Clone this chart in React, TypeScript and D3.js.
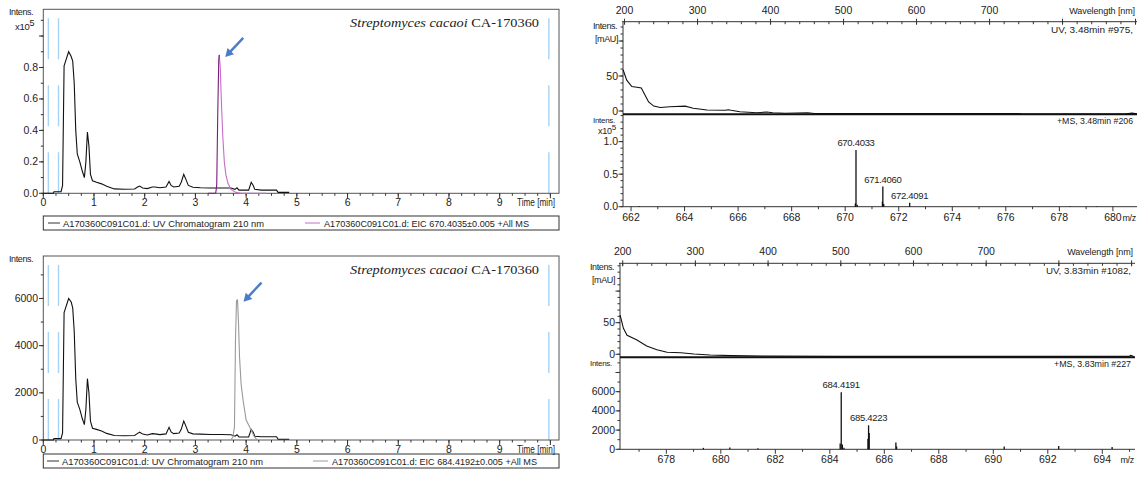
import * as d3 from 'd3'

const FONT = "'Liberation Sans', Arial, sans-serif"
const SERIF = "'Liberation Serif', 'Times New Roman', serif"

// ---- chromatograms: [time min, intensity] ----
// top: UV 210 nm and EIC 670.4035 (x10^5)
const tlUv: [number, number][] = [
  [0, 0], [0.2, 0], [0.21, 0.01], [0.35, 0.01], [0.38, 0.05], [0.41, 0.81], [0.44, 0.84], [0.5, 0.9],
  [0.55, 0.87], [0.58, 0.84], [0.61, 0.7], [0.64, 0.4], [0.67, 0.25], [0.72, 0.2], [0.77, 0.14],
  [0.81, 0.1], [0.84, 0.2], [0.87, 0.39], [0.9, 0.3], [0.93, 0.12], [0.97, 0.08], [1.05, 0.07],
  [1.15, 0.06], [1.25, 0.045], [1.4, 0.028], [1.6, 0.026], [1.8, 0.027], [1.86, 0.04], [1.9, 0.046],
  [1.96, 0.034], [2.05, 0.03], [2.15, 0.04], [2.2, 0.04], [2.3, 0.035], [2.42, 0.04], [2.48, 0.075],
  [2.52, 0.05], [2.57, 0.04], [2.68, 0.045], [2.72, 0.07], [2.77, 0.12], [2.81, 0.09], [2.86, 0.05],
  [2.95, 0.038], [3.1, 0.035], [3.3, 0.034], [3.5, 0.034], [3.7, 0.034], [3.78, 0.025], [3.82, 0.035],
  [3.86, 0.02], [3.95, 0.02], [4.05, 0.02], [4.1, 0.07], [4.14, 0.05], [4.17, 0.025], [4.3, 0.02],
  [4.6, 0.02], [4.63, 0.006], [4.85, 0.006],
]
const tlEic: [number, number][] = [
  [3.25, 0], [3.4, 0], [3.42, 0.05], [3.44, 0.5], [3.46, 0.85], [3.47, 0.88], [3.49, 0.8], [3.51, 0.6],
  [3.54, 0.36], [3.57, 0.2], [3.6, 0.12], [3.64, 0.065], [3.7, 0.025], [3.8, 0.006], [3.9, 0], [4.4, 0],
]
// bottom: UV 210 nm and EIC 684.4192
const blUv: [number, number][] = [
  [0, 0], [0.2, 0], [0.21, 60], [0.35, 60], [0.38, 300], [0.41, 5400], [0.44, 5600], [0.5, 6000],
  [0.55, 5850], [0.58, 5600], [0.61, 4600], [0.64, 2600], [0.67, 1600], [0.72, 1300], [0.77, 900],
  [0.81, 650], [0.84, 1300], [0.87, 2600], [0.9, 2000], [0.93, 800], [0.97, 500], [1.05, 450],
  [1.15, 380], [1.25, 280], [1.4, 190], [1.6, 180], [1.8, 190], [1.86, 280], [1.9, 330], [1.96, 250],
  [2.05, 210], [2.15, 270], [2.2, 260], [2.3, 230], [2.42, 260], [2.48, 540], [2.52, 340], [2.57, 270],
  [2.68, 300], [2.72, 450], [2.77, 800], [2.81, 600], [2.86, 330], [2.95, 260], [3.1, 250], [3.3, 235],
  [3.5, 235], [3.7, 225], [3.78, 160], [3.82, 220], [3.86, 130], [3.95, 130], [4.05, 130], [4.1, 450],
  [4.14, 330], [4.17, 160], [4.3, 140], [4.6, 140], [4.63, 30], [4.85, 30],
]
const blEic: [number, number][] = [
  [3.7, 0], [3.74, 140], [3.77, 560], [3.79, 4230], [3.81, 5900], [3.83, 5950], [3.85, 4930], [3.87, 3520],
  [3.9, 2390], [3.94, 1690], [4.0, 845], [4.1, 420], [4.16, 140], [4.22, 0],
]

// ---- UV spectra: [wavelength nm, mAU] ----
const trSpec: [number, number][] = [
  [198, 59], [203, 44], [210, 35], [217, 34], [223, 33], [228, 23], [233, 13], [240, 7], [249, 5],
  [262, 6], [283, 7], [294, 4], [313, 1.5], [338, 1], [342, 1.8], [346, 1], [358, -1], [381, -2.5],
  [395, -1.5], [403, -2.5], [420, -3.3], [451, -2.4], [460, -3.5], [600, -3.5], [740, -3.5],
  [745, -4.4], [885, -4.4], [895, -3], [902, -4],
]
const brSpec: [number, number][] = [
  [196.5, 62], [201, 41], [206, 30], [219, 23], [233, 13], [247, 7], [261, 3.1], [280, 2.5],
  [298, 0.5], [320, -1.2], [350, -2.2], [400, -3], [500, -3.4], [700, -3.4], [896, -3.4],
  [899, -1.8], [903, -3.4],
]

// ---- MS spectra ----
const trMz = [662.3, 670.38, 670.4033, 670.45, 671.39, 671.406, 671.44, 672.4091, 678.4, 679.4]
const trInt = [0.01, 0.05, 0.87, 0.03, 0.08, 0.31, 0.04, 0.06, 0.008, 0.006]
const trLab = ['', '', '670.4033', '', '', '671.4060', '', '672.4091', '', '']
const brMz = [679.36, 680.33, 681.36, 684.38, 684.4191, 684.46, 684.52, 685.4, 685.4223, 685.445, 686.425, 686.45, 690.4, 692.4, 694.36]
const brInt = [150, 200, 100, 600, 5950, 500, 150, 1100, 2500, 1700, 700, 300, 300, 350, 250]
const brLab = ['', '', '', '', '684.4191', '', '', '', '685.4223', '', '', '', '', '', '']

const xTime = d3.scaleLinear().domain([0, 10.17]).range([43.3, 559])
const dashTimes = [0.1, 0.3, 9.97]

type P = [number, number]

function Chromatogram(props: any) {
  const { top, axisY, yMax, major, minor, labels, fmt, uv, eic, riseColor, fallColor, legendTop,
    eicText, mult, legendX } = props
  const y = d3.scaleLinear().domain([0, yMax]).range([axisY, top])
  const line = d3.line<P>().x(d => xTime(d[0])).y(d => y(d[1]))
  const pk = eic.reduce((a: P, b: P) => (b[1] > a[1] ? b : a))
  const pi = eic.indexOf(pk)
  const tipX = xTime(pk[0]) + 6, tipY = y(pk[1]) + 2
  const tailX = tipX + 18, tailY = tipY - 19
  const ang = Math.atan2(tipY - tailY, tipX - tailX)
  const hl = 8, hw = 4.5
  const head = [
    [tipX, tipY],
    [tipX - hl * Math.cos(ang) + hw * Math.sin(ang), tipY - hl * Math.sin(ang) - hw * Math.cos(ang)],
    [tipX - hl * Math.cos(ang) - hw * Math.sin(ang), tipY - hl * Math.sin(ang) + hw * Math.cos(ang)],
  ]
  const minorX = d3.range(0, 10.01, 0.25)
  const majorX = d3.range(0, 11, 1)
  const minorY = d3.range(0, yMax, minor)
  const majorY = d3.range(0, yMax, major)
  return (
    <g fontFamily={FONT}>
      {dashTimes.map(t => (
        <line key={t} x1={xTime(t)} x2={xTime(t)} y1={axisY} y2={axisY - 175} stroke="#a6d3f5" strokeWidth={1.4} strokeDasharray="41 26" />
      ))}
      <rect x={43.3} y={top} width={559 - 43.3} height={axisY - top} fill="none" stroke="#555" strokeWidth={1} />
      {minorX.map(t => <line key={'mx' + t} x1={xTime(t)} x2={xTime(t)} y1={axisY} y2={axisY + 2.5} stroke="#333" />)}
      {majorX.map(t => <line key={'Mx' + t} x1={xTime(t)} x2={xTime(t)} y1={axisY} y2={axisY + 5} stroke="#333" />)}
      {majorX.slice(0, 10).map(t => (
        <text key={'lx' + t} x={xTime(t)} y={axisY + 13} fontSize={10.5} textAnchor="middle" fill="#222">{t}</text>
      ))}
      <text x={555} y={axisY + 13} fontSize={10} textAnchor="end" fill="#222" textLength={38} lengthAdjust="spacingAndGlyphs">Time [min]</text>
      {minorY.map(v => <line key={'my' + v} x1={43.3} x2={40.8} y1={y(v)} y2={y(v)} stroke="#333" />)}
      {majorY.map(v => <line key={'My' + v} x1={43.3} x2={39} y1={y(v)} y2={y(v)} stroke="#333" />)}
      {labels.map((v: number) => (
        <text key={'ly' + v} x={38} y={y(v) + 3.5} fontSize={10.5} textAnchor="end" fill="#222">{fmt(v)}</text>
      ))}
      <text x={9} y={top + 6} fontSize={9} fill="#222" letterSpacing={-0.4}>Intens.</text>
      {mult && (
        <text x={15} y={top + 21} fontSize={9.5} fill="#222" letterSpacing={-0.3}>x10<tspan dy={-4} fontSize={9}>5</tspan></text>
      )}
      <path d={line(uv) ?? ''} fill="none" stroke="#111" strokeWidth={1.1} />
      <path d={line(eic.slice(pi)) ?? ''} fill="none" stroke={fallColor} strokeWidth={1.1} />
      <path d={line(eic.slice(0, pi + 1)) ?? ''} fill="none" stroke={riseColor} strokeWidth={1.1} />
      <line x1={tailX} y1={tailY} x2={head[0][0] - (hl - 1) * Math.cos(ang)} y2={head[0][1] - (hl - 1) * Math.sin(ang)} stroke="#4a7cc9" strokeWidth={2.4} />
      <polygon points={head.map(p => p.join(',')).join(' ')} fill="#4a7cc9" />
      <text x={539} y={top + 18} fontFamily={SERIF} fontSize={13.5} textAnchor="end" fill="#222" textLength={189} lengthAdjust="spacingAndGlyphs">
        <tspan fontStyle="italic">Streptomyces cacaoi</tspan> CA-170360
      </text>
      <rect x={43.3} y={legendTop} width={559 - 43.3} height={14} fill="none" stroke="#333" strokeWidth={1} />
      <line x1={legendX[0]} x2={legendX[0] + 12} y1={legendTop + 7} y2={legendTop + 7} stroke="#333" />
      <text x={legendX[0] + 15} y={legendTop + 10.5} fontSize={9.5} fill="#222" textLength={201} lengthAdjust="spacingAndGlyphs">A170360C091C01.d: UV Chromatogram 210 nm</text>
      <line x1={legendX[1]} x2={legendX[1] + 15} y1={legendTop + 7} y2={legendTop + 7} stroke={fallColor} />
      <text x={legendX[1] + 19} y={legendTop + 10.5} fontSize={9.5} fill="#222" textLength={205} lengthAdjust="spacingAndGlyphs">{eicText}</text>
    </g>
  )
}

function Spectra(props: any) {
  const { left, right, axisTop, sep, axisBottom, wlDomain, uvDomain, mzDomain, msMax, spec,
    mz, ints, labs, uvTicks, uvLabels, msMajor, msMinor, msLabels, msFmt, mult, uvInfo, msInfo, mzLabels } = props
  const xw = d3.scaleLinear().domain(wlDomain).range([left, right])
  const yu = d3.scaleLinear().domain(uvDomain).range([sep, axisTop])
  const xm = d3.scaleLinear().domain(mzDomain).range([left, right])
  const ym = d3.scaleLinear().domain([0, msMax]).range([axisBottom, sep])
  const line = d3.line<P>().x(d => xw(d[0])).y(d => yu(d[1]))
  const wlMinor = d3.range(200, wlDomain[1], 20)
  const wlMajor = d3.range(200, wlDomain[1], 100)
  const mzMinor = d3.range(Math.ceil(mzDomain[0]), mzDomain[1], 1)
  return (
    <g fontFamily={FONT} fill="#222">
      {/* top wavelength axis */}
      <line x1={left - 1} x2={right} y1={axisTop} y2={axisTop} stroke="#333" />
      {wlMinor.map(v => <line key={'wm' + v} x1={xw(v)} x2={xw(v)} y1={axisTop} y2={axisTop + 2.5} stroke="#333" />)}
      {wlMajor.map(v => <line key={'wM' + v} x1={xw(v)} x2={xw(v)} y1={axisTop - 3} y2={axisTop + 3} stroke="#333" />)}
      {wlMajor.filter(v => v <= 700).map(v => (
        <text key={'wl' + v} x={xw(v)} y={axisTop - 8} fontSize={10.5} textAnchor="middle">{v}</text>
      ))}
      <text x={right - 2} y={axisTop - 8} fontSize={9} textAnchor="end" letterSpacing={-0.1}>Wavelength [nm]</text>
      <text x={right - 4} y={axisTop + 11} fontSize={9.5} textAnchor="end" textLength={uvInfo[1]} lengthAdjust="spacingAndGlyphs">{uvInfo[0]}</text>
      {/* left axis */}
      <line x1={left} x2={left} y1={axisTop} y2={axisBottom} stroke="#333" />
      {d3.range(0, uvDomain[1], 10).map(v => <line key={'um' + v} x1={left} x2={left - 2.5} y1={yu(v)} y2={yu(v)} stroke="#333" />)}
      {uvTicks.map((v: number) => <line key={'uM' + v} x1={left} x2={left - 4.5} y1={yu(v)} y2={yu(v)} stroke="#333" />)}
      {uvLabels.map((v: number) => (
        <text key={'ul' + v} x={left - 5} y={yu(v) + 3.5} fontSize={10.5} textAnchor="end">{v}</text>
      ))}
      <text x={left - 30} y={axisTop + 7} fontSize={9} letterSpacing={-0.4}>Intens.</text>
      <text x={left - 28} y={axisTop + 20} fontSize={9} letterSpacing={-0.4}>[mAU]</text>
      <path d={line(spec) ?? ''} fill="none" stroke="#111" strokeWidth={1.1} />
      <line x1={left} x2={right} y1={sep} y2={sep} stroke="#111" strokeWidth={2} />
      {/* MS */}
      <text x={right - 4} y={sep + 10} fontSize={9.5} textAnchor="end" textLength={msInfo[1]} lengthAdjust="spacingAndGlyphs">{msInfo[0]}</text>
      {d3.range(0, msMax, msMinor).map(v => <line key={'mm' + v} x1={left} x2={left - 2.5} y1={ym(v)} y2={ym(v)} stroke="#333" />)}
      {d3.range(0, msMax, msMajor).map(v => <line key={'mM' + v} x1={left} x2={left - 4.5} y1={ym(v)} y2={ym(v)} stroke="#333" />)}
      {msLabels.map((v: number) => (
        <text key={'ml' + v} x={left - 5} y={ym(v) + 3.5} fontSize={10.5} textAnchor="end">{msFmt(v)}</text>
      ))}
      <text x={left - 30} y={sep + 8.5} fontSize={8} letterSpacing={-0.3}>Intens.</text>
      {mult && (
        <text x={left - 25} y={sep + 19.5} fontSize={9} letterSpacing={-0.3}>x10<tspan dy={-3.5} fontSize={8}>5</tspan></text>
      )}
      <line x1={left} x2={right} y1={axisBottom} y2={axisBottom} stroke="#333" />
      {mzMinor.map(v => (
        <line key={'zm' + v} x1={xm(v)} x2={xm(v)} y1={axisBottom} y2={axisBottom + (v % 2 === 0 ? 4.5 : 2.5)} stroke="#333" />
      ))}
      {mzLabels.map((v: number) => (
        <text key={'zl' + v} x={xm(v)} y={axisBottom + 14} fontSize={10.5} textAnchor="middle">{v}</text>
      ))}
      <text x={right - 1} y={axisBottom + 14} fontSize={9} textAnchor="end" letterSpacing={-0.3}>m/z</text>
      {mz.map((m: number, i: number) => (
        <line key={'pk' + i} x1={xm(m)} x2={xm(m)} y1={axisBottom} y2={ym(ints[i])} stroke="#111" strokeWidth={1.3} />
      ))}
      {labs.map((l: string, i: number) => l && (
        <text key={'pl' + i} x={xm(mz[i])} y={ym(ints[i]) - 4} fontSize={9.5} textAnchor="middle" letterSpacing={-0.3}>{l}</text>
      ))}
    </g>
  )
}

export default function App() {
  return (
    <svg width={1139} height={479} style={{ position: 'absolute', left: 0, top: 0, background: '#fff' }}>
      <Chromatogram top={9.3} axisY={193.3} yMax={1.17} major={0.2} minor={0.1} labels={[0, 0.2, 0.4, 0.6, 0.8]}
        fmt={d3.format('.1f')} uv={tlUv} eic={tlEic} riseColor="#7b1c7e" fallColor="#c46ec6" legendTop={216}
        eicText="A170360C091C01.d: EIC 670.4035±0.005 +All MS" mult legendX={[48, 305]} />
      <Chromatogram top={256} axisY={440} yMax={7800} major={2000} minor={1000} labels={[0, 2000, 4000, 6000]}
        fmt={d3.format('d')} uv={blUv} eic={blEic} riseColor="#9a9a9a" fallColor="#9a9a9a" legendTop={454}
        eicText="A170360C091C01.d: EIC 684.4192±0.005 +All MS" mult={false} legendX={[47, 313]} />
      <Spectra left={623} right={1137} axisTop={21.7} sep={114.3} axisBottom={206.7}
        wlDomain={[197.9, 902]} uvDomain={[-4.7, 127.6]} mzDomain={[661.7, 680.9]} msMax={1.42}
        spec={trSpec} mz={trMz} ints={trInt} labs={trLab} uvTicks={[0, 50, 100]} uvLabels={[0, 50]}
        msMajor={0.5} msMinor={0.1} msLabels={[0, 0.5, 1.0]} msFmt={d3.format('.1f')} mult
        uvInfo={['UV, 3.48min #975,', 82]} msInfo={['+MS, 3.48min #206', 76]}
        mzLabels={[662, 664, 666, 668, 670, 672, 674, 676, 678, 680]} />
      <Spectra left={620} right={1135} axisTop={263.3} sep={357.3} axisBottom={449.3}
        wlDomain={[196.3, 904.7]} uvDomain={[-4.8, 144]} mzDomain={[676.3, 695.2]} msMax={9580}
        spec={brSpec} mz={brMz} ints={brInt} labs={brLab} uvTicks={[0, 50, 100]} uvLabels={[0, 50]}
        msMajor={2000} msMinor={1000} msLabels={[0, 2000, 4000, 6000]} msFmt={d3.format('d')} mult={false}
        uvInfo={['UV, 3.83min #1082,', 85]} msInfo={['+MS, 3.83min #227', 77]}
        mzLabels={[678, 680, 682, 684, 686, 688, 690, 692, 694]} />
    </svg>
  )
}
